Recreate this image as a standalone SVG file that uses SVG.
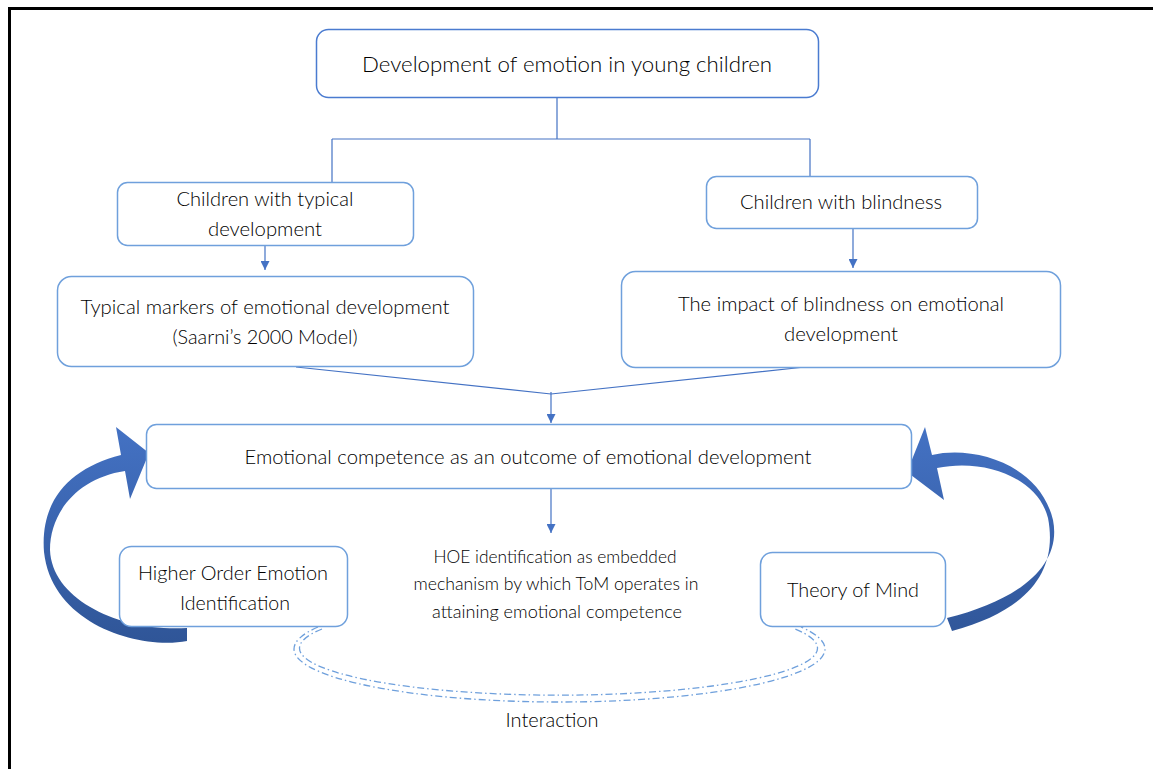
<svg xmlns="http://www.w3.org/2000/svg" width="1153" height="769" viewBox="0 0 1153 769">
<defs>
<style>
.box{fill:#ffffff;stroke:#6FA0DC;stroke-width:1.5}
.top{fill:#ffffff;stroke:#4A7BD0;stroke-width:1.5}
.t{font-family:Lato,"Noto Sans",sans-serif;font-weight:300;fill:#000000;text-anchor:middle}
.conn{fill:none;stroke:#4472C4;stroke-width:1.2}
.dd{fill:none;stroke:#6FA0DC;stroke-width:1.3;stroke-dasharray:7 3 1.5 3}
</style>
<marker id="ah" viewBox="0 0 10 10" refX="10" refY="5" markerWidth="9" markerHeight="9" markerUnits="userSpaceOnUse" orient="auto">
<path d="M0,0 L10,5 L0,10 Z" fill="#4472C4"/>
</marker>
<linearGradient id="gl" gradientUnits="userSpaceOnUse" x1="0" y1="425" x2="0" y2="645">
<stop offset="0" stop-color="#4472C4"/>
<stop offset="1" stop-color="#2F5597"/>
</linearGradient>
</defs>
<rect x="0" y="0" width="1153" height="769" fill="#ffffff"/>
<path d="M9.5,775 L9.5,8.5 L1160,8.5" fill="none" stroke="#000000" stroke-width="3"/>

<g id="connectors">
<path class="conn" d="M557,97 V139 M332,139 H810 M332,139 V182 M810,139 V176"/>
<line class="conn" x1="265" y1="245" x2="265" y2="270" marker-end="url(#ah)"/>
<line class="conn" x1="853" y1="228" x2="853" y2="268" marker-end="url(#ah)"/>
<path class="conn" d="M296,367 L551,394 L805,367"/>
<line class="conn" x1="551" y1="392" x2="551" y2="423" marker-end="url(#ah)"/>
<line class="conn" x1="551" y1="488" x2="551" y2="533" marker-end="url(#ah)"/>
<path class="dd" d="M318,627 A265.5 53 0 1 0 801,627"/>
<path class="dd" d="M322,629 A259 47 0 1 0 795,629"/>
<path id="arrowL" fill="url(#gl)" d="M149,453 L130,499 L125,471 C78,478 50,512 50,550 C52,600 120,632 187,628 L187,641 C140,650 52,625 44,552 C40,500 70,468 121,455 L116,427 Z"/>
<path id="arrowR" fill="url(#gl)" d="M907,472 L925,427 L932,455 C975,445 1040,465 1053,520 C1062,565 1020,600 947,618 L952,631 C1030,610 1058,570 1048,518 C1038,478 985,458 937,468 L944,500 Z"/>
</g>

<g id="n1">
<rect class="top" x="316.5" y="29.5" width="502" height="68" rx="12"/>
<text class="t" x="567" y="72" font-size="21" textLength="410" lengthAdjust="spacingAndGlyphs">Development of emotion in young children</text>
</g>
<g id="n2">
<rect class="box" x="117.5" y="182.5" width="296" height="63" rx="10"/>
<text class="t" x="265" y="206" font-size="19" textLength="177" lengthAdjust="spacingAndGlyphs">Children with typical</text>
<text class="t" x="265" y="236" font-size="19" textLength="114" lengthAdjust="spacingAndGlyphs">development</text>
</g>
<g id="n3">
<rect class="box" x="706.5" y="176.5" width="271" height="52" rx="10"/>
<text class="t" x="841" y="209" font-size="19" textLength="202" lengthAdjust="spacingAndGlyphs">Children with blindness</text>
</g>
<g id="n4">
<rect class="box" x="57.5" y="276.5" width="416" height="90" rx="14"/>
<text class="t" x="265" y="314" font-size="19" textLength="369" lengthAdjust="spacingAndGlyphs">Typical markers of emotional development</text>
<text class="t" x="265" y="344" font-size="19" textLength="185" lengthAdjust="spacingAndGlyphs">(Saarni’s 2000 Model)</text>
</g>
<g id="n5">
<rect class="box" x="621.5" y="271.5" width="439" height="96" rx="14"/>
<text class="t" x="841" y="311" font-size="19" textLength="326" lengthAdjust="spacingAndGlyphs">The impact of blindness on emotional</text>
<text class="t" x="841" y="341" font-size="19" textLength="114" lengthAdjust="spacingAndGlyphs">development</text>
</g>
<g id="n6">
<rect class="box" x="146.5" y="424.5" width="765" height="64" rx="10"/>
<text class="t" x="528" y="464" font-size="19.5" textLength="567" lengthAdjust="spacingAndGlyphs">Emotional competence as an outcome of emotional development</text>
</g>
<g id="n7">
<rect class="box" x="119.5" y="546.5" width="228" height="80" rx="12"/>
<text class="t" x="233" y="580" font-size="19" textLength="190" lengthAdjust="spacingAndGlyphs">Higher Order Emotion</text>
<text class="t" x="235" y="610" font-size="19" textLength="110" lengthAdjust="spacingAndGlyphs">Identification</text>
</g>
<g id="n8">
<rect class="box" x="760.5" y="552.5" width="185" height="74" rx="12"/>
<text class="t" x="853" y="597" font-size="19" textLength="132" lengthAdjust="spacingAndGlyphs">Theory of Mind</text>
</g>
<g id="n9">
<text class="t" x="555" y="563" font-size="17" textLength="243" lengthAdjust="spacingAndGlyphs">HOE identification as embedded</text>
<text class="t" x="556" y="590" font-size="17" textLength="285" lengthAdjust="spacingAndGlyphs">mechanism by which ToM operates in</text>
<text class="t" x="557" y="618" font-size="17" textLength="250" lengthAdjust="spacingAndGlyphs">attaining emotional competence</text>
</g>
<g id="n10">
<text class="t" x="552" y="727" font-size="19" textLength="93" lengthAdjust="spacingAndGlyphs">Interaction</text>
</g>
</svg>
